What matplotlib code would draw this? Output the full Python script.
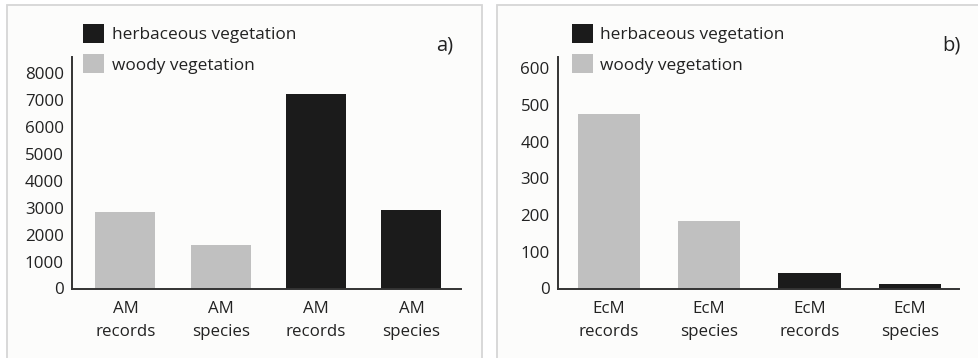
import matplotlib
matplotlib.use("Agg")
import matplotlib.pyplot as plt
from matplotlib.patches import Rectangle, Patch

plt.rcParams['font.family'] = ['Open Sans', 'DejaVu Sans']

# values
am_labels = ['AM\nrecords', 'AM\nspecies', 'AM\nrecords', 'AM\nspecies']
am_values = [2850, 1600, 7200, 2920]
ecm_labels = ['EcM\nrecords', 'EcM\nspecies', 'EcM\nrecords', 'EcM\nspecies']
ecm_values = [477, 184, 41, 13]
vegetation = ['woody', 'woody', 'herbaceous', 'herbaceous']
am_yticks = [0, 1000, 2000, 3000, 4000, 5000, 6000, 7000, 8000]
ecm_yticks = [0, 100, 200, 300, 400, 500, 600]

colors = {'herbaceous': '#1b1b1b', 'woody': '#c0c0c0'}
W, H = 979, 358
FS = 12.2
LFS = 12.4

fig = plt.figure(figsize=(W / 100, H / 100), dpi=100)
fig.patch.set_facecolor('white')


def px_box(x0, y0, x1, y1):
    # pixel box (top-left origin) -> figure fraction [l, b, w, h]
    return [x0 / W, 1 - y1 / H, (x1 - x0) / W, (y1 - y0) / H]


# panel frames
for x0, x1 in [(7, 482), (497, 990)]:
    fig.patches.append(Rectangle((x0 / W, -0.05), (x1 - x0) / W, 1 - 5 / H + 0.05,
                                 transform=fig.transFigure, facecolor='#fcfcfb',
                                 edgecolor='#d6d6d6', lw=1.3, zorder=-5))


def panel(box, labels, values, yticks, ytop, xlim, width, leg_x, tag, tag_x):
    ax = fig.add_axes(px_box(*box))
    ax.set_facecolor('none')
    x = range(len(values))
    ax.bar(x, values, width=width, color=[colors[v] for v in vegetation], zorder=2)
    ax.set_xlim(*xlim)
    ax.set_ylim(0, ytop)
    ax.set_yticks(yticks)
    ax.set_xticks(list(x))
    ax.set_xticklabels(labels, linespacing=1.6)
    for s in ['top', 'right']:
        ax.spines[s].set_visible(False)
    for s in ['left', 'bottom']:
        ax.spines[s].set_linewidth(1.4)
        ax.spines[s].set_color('#333333')
    ax.tick_params(axis='both', length=0, labelsize=FS, colors='#222222')
    ax.tick_params(axis='y', pad=6)
    ax.tick_params(axis='x', pad=9)
    handles = [Patch(facecolor=colors['herbaceous'], label='herbaceous vegetation'),
               Patch(facecolor=colors['woody'], label='woody vegetation')]
    ax.legend(handles=handles, loc='upper left', frameon=False, fontsize=LFS,
              bbox_to_anchor=(leg_x / W, 1 - 24 / H), bbox_transform=fig.transFigure,
              borderpad=0, borderaxespad=0, handlelength=1.22, handleheight=1.3,
              handletextpad=0.45, labelspacing=0.65, labelcolor='#222222')
    fig.text(tag_x / W, 1 - 46 / H, tag, ha='center', va='center', fontsize=14.5,
             color='#222222')
    return ax


panel((72, 57, 461, 288.5), am_labels, am_values, am_yticks,
      (288.5 - 57) / 27.0 * 1000, (-0.56, 3.52), 0.63, 83, 'a)', 445)
panel((558, 57, 959, 288.5), ecm_labels, ecm_values, ecm_yticks,
      (288.5 - 57) / 36.67 * 100, (-0.505, 3.49), 0.62, 571.5, 'b)', 951)

fig.savefig('out.png', dpi=100)
